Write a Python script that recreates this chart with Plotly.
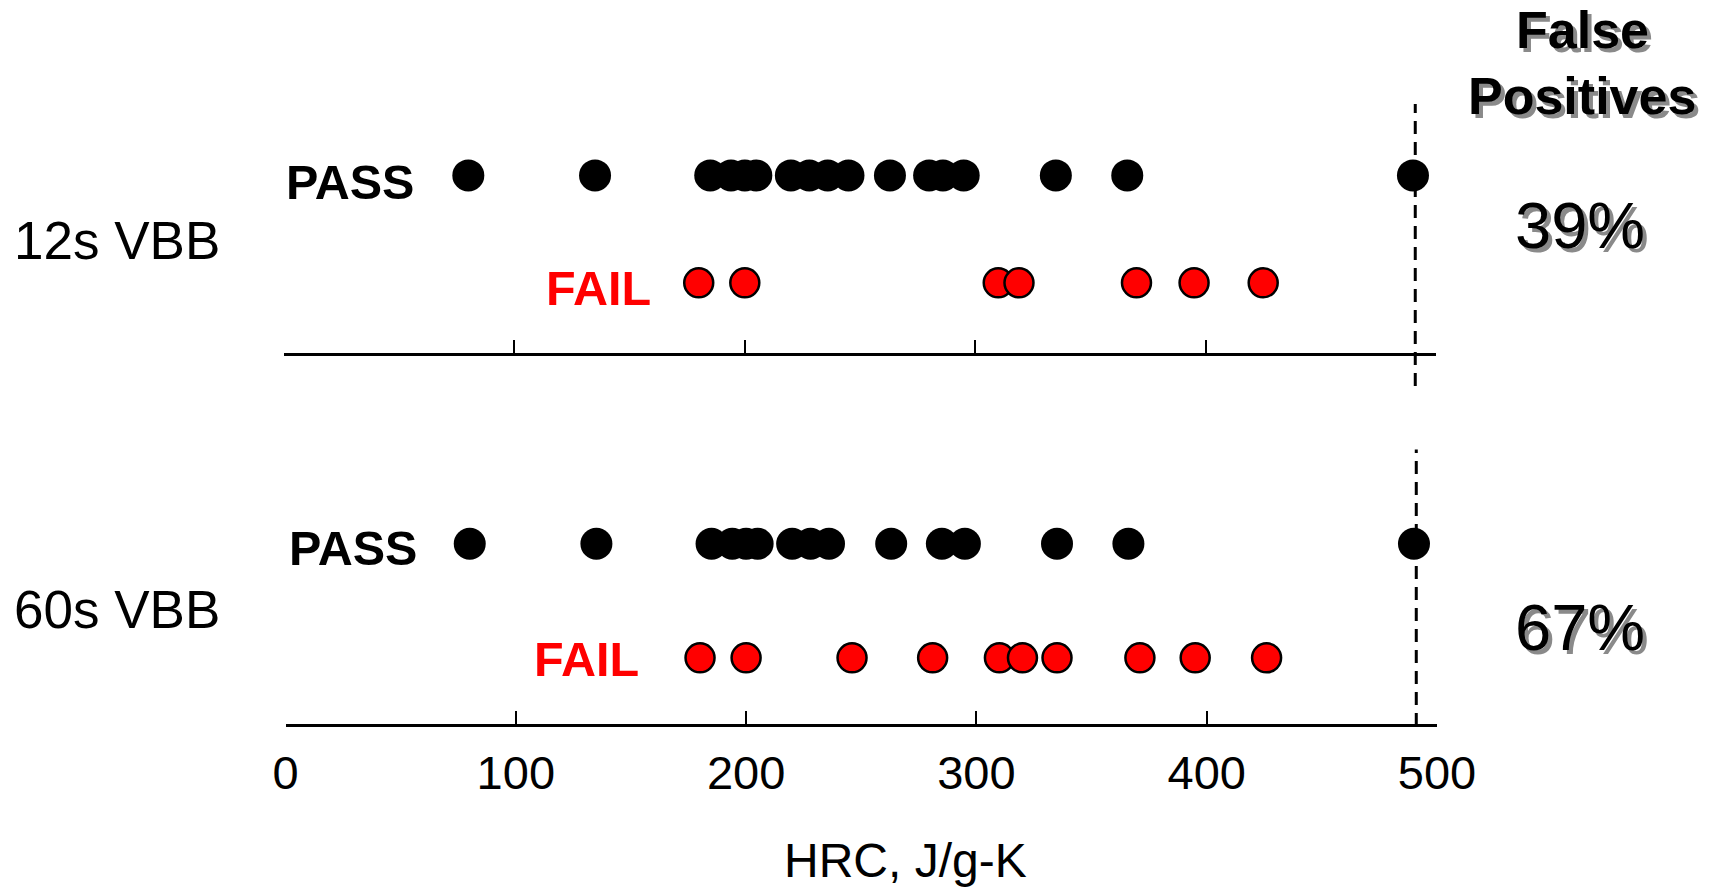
import plotly.graph_objects as go

# HRC values (J/g-K) for each test condition
hrc_pass_12s = [80, 135, 185, 194, 200, 205, 220, 228, 236, 245, 263, 280, 286, 295, 335, 366, 490]
hrc_fail_12s = [180, 200, 310, 319, 370, 395, 425]
hrc_pass_60s = [80, 135, 185, 194, 200, 205, 220, 228, 236, 263, 285, 295, 335, 366, 490]
hrc_fail_60s = [180, 200, 246, 281, 310, 320, 335, 371, 395, 426]

threshold_hrc = 491
conditions = ["12s VBB", "60s VBB"]
false_positive = ["39%", "67%"]
x_ticks = [0, 100, 200, 300, 400, 500]

W, H = 1719, 888
FONT = "Liberation Sans, Arial, Helvetica, sans-serif"


def px(x):
    return x / W


def py(y):
    return 1 - y / H


fig = go.Figure()

pass_marker = dict(size=32, color="black", line=dict(width=0))
fail_marker = dict(size=29, color="#ff0000", line=dict(width=2.5, color="black"))

fig.add_trace(go.Scatter(x=hrc_pass_12s, y=[1] * len(hrc_pass_12s), mode="markers",
                         marker=pass_marker, xaxis="x", yaxis="y"))
fig.add_trace(go.Scatter(x=hrc_fail_12s, y=[0] * len(hrc_fail_12s), mode="markers",
                         marker=fail_marker, xaxis="x", yaxis="y"))
fig.add_trace(go.Scatter(x=hrc_pass_60s, y=[1] * len(hrc_pass_60s), mode="markers",
                         marker=pass_marker, xaxis="x2", yaxis="y2"))
fig.add_trace(go.Scatter(x=hrc_fail_60s, y=[0] * len(hrc_fail_60s), mode="markers",
                         marker=fail_marker, xaxis="x2", yaxis="y2"))

axis_common = dict(range=[0, 500], tickvals=x_ticks, showline=True, linecolor="black",
                   linewidth=2.5, ticks="inside", ticklen=13, tickwidth=2, tickcolor="black",
                   showgrid=False, zeroline=False, fixedrange=True, automargin=False)

fig.update_layout(
    width=W, height=H,
    margin=dict(l=0, r=0, t=0, b=0, autoexpand=False),
    paper_bgcolor="white", plot_bgcolor="white",
    showlegend=False,
    font=dict(family=FONT, color="black"),
    xaxis=dict(domain=[px(284), px(1436)], anchor="y", showticklabels=False, **axis_common),
    yaxis=dict(domain=[py(353), py(104)], range=[-0.654, 1.665], visible=False,
               anchor="x", fixedrange=True, automargin=False),
    xaxis2=dict(domain=[px(285.5), px(1437)], anchor="y2", showticklabels=True,
                tickfont=dict(size=47, family=FONT), ticklabelstandoff=6, **axis_common),
    yaxis2=dict(domain=[py(723.6), py(449.5)], range=[-0.577, 1.827], visible=False,
                anchor="x2", fixedrange=True, automargin=False),
)

# dashed threshold line in each panel
fig.add_shape(type="line", xref="x", yref="paper", x0=threshold_hrc, x1=threshold_hrc,
              y0=py(386), y1=py(104), line=dict(color="black", width=3, dash="13px,8px"))
fig.add_shape(type="line", xref="x2", yref="paper", x0=threshold_hrc, x1=threshold_hrc,
              y0=py(726), y1=py(449.5), line=dict(color="black", width=3, dash="13px,8px"))


def label(text, x, y, size, color="black", bold=False, xanchor="left", yanchor="middle",
          shadow="none"):
    fig.add_annotation(text=f"<b>{text}</b>" if bold else text, xref="paper", yref="paper",
                       x=px(x), y=py(y), xanchor=xanchor, yanchor=yanchor, showarrow=False,
                       borderpad=0,
                       font=dict(size=size, color=color, family=FONT, shadow=shadow))


SHADOW = "4px 4px 0px #8a8a8a"

# condition names
label(conditions[0], 13, 241, 53)
label(conditions[1], 13, 609, 53)

# PASS / FAIL row labels
label("PASS", 285, 182, 48.5, bold=True)
label("FAIL", 545, 288, 48.5, color="#ff0000", bold=True)
label("PASS", 288, 548, 48.5, bold=True)
label("FAIL", 533, 659, 48.5, color="#ff0000", bold=True)

# false-positive column
label("False", 1582, 30, 52, bold=True, xanchor="center", shadow=SHADOW)
label("Positives", 1582, 96, 52, bold=True, xanchor="center", shadow=SHADOW)
label(false_positive[0], 1580, 226, 65, xanchor="center", shadow=SHADOW)
label(false_positive[1], 1580, 627, 65, xanchor="center", shadow=SHADOW)

# x-axis title
label("HRC, J/g-K", 906, 888, 48, xanchor="center", yanchor="bottom")

fig.write_html("out.html")
